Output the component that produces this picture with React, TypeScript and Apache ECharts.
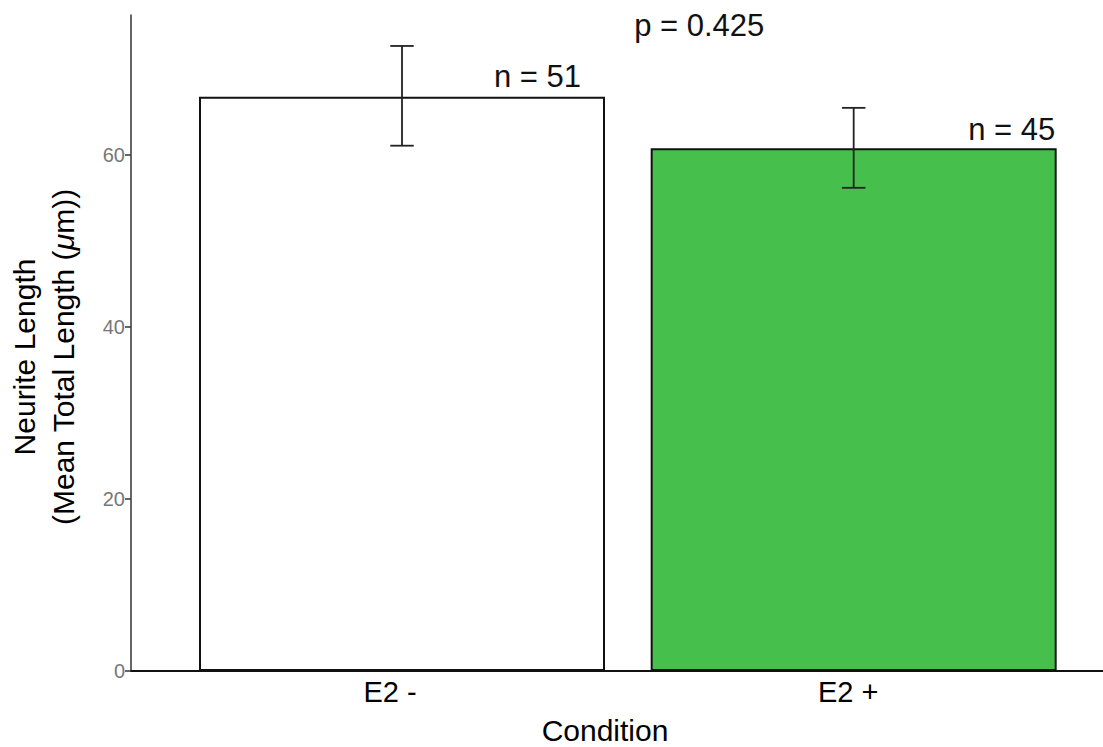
import React, { useEffect, useRef } from "react";
import * as echarts from "echarts";

const categories = ["E2 -", "E2 +"];
const catPositions = [1, 2];
const means = [66.8, 60.8];
const errLower = [61.1, 56.2];
const errUpper = [72.7, 65.5];
const barColors = ["#ffffff", "#46bf4d"];
const annX = [1.3, 2.35, 1.658];
const annY = [67.3, 61.2, 73.3];
const annText = ["n = 51", "n = 45", "p = 0.425"];
const yTicks = [0, 20, 40, 60];

const FONT = "'Liberation Sans', Arial, Helvetica, sans-serif";

export default function App() {
  const ref = useRef<HTMLDivElement>(null);
  useEffect(() => {
    if (!ref.current) return;
    const chart = echarts.init(ref.current, null, { renderer: "svg" });
    const option: any = {
      animation: false,
      backgroundColor: "#ffffff",
      grid: { left: 131, top: 15, right: 0, height: 656, containLabel: false },
      xAxis: {
        type: "value",
        min: 0.4,
        max: 2.552,
        splitLine: { show: false },
        axisTick: { show: false },
        axisLine: { show: true, onZero: false, lineStyle: { color: "#111", width: 2 } },
        axisLabel: {
          customValues: catPositions,
          margin: 6,
          formatter: (v: number) => {
            const i = catPositions.indexOf(v);
            if (i < 0) return "";
            return i === 0 ? `{a|${categories[i]}}` : `{b|${categories[i]}}`;
          },
          rich: {
            a: { fontSize: 29, fontFamily: FONT, color: "#000", padding: [0, 24, 0, 0] },
            b: { fontSize: 29, fontFamily: FONT, color: "#000", padding: [0, 11, 0, 0] },
          },
        },
      },
      yAxis: {
        type: "value",
        min: 0,
        max: 76.3,
        interval: 20,
        splitLine: { show: false },
        axisLine: { show: true, lineStyle: { color: "#333", width: 1.5 } },
        axisTick: { show: true, length: 6, customValues: yTicks, lineStyle: { color: "#333", width: 1.5 } },
        axisLabel: {
          customValues: yTicks,
          margin: 6,
          fontSize: 20,
          fontFamily: FONT,
          color: "#777",
        },
      },
      series: [
        {
          type: "bar",
          barWidth: 406,
          z: 2,
          data: catPositions.map((x, i) => ({
            value: [x, means[i]],
            itemStyle: { color: barColors[i], borderColor: "#111", borderWidth: 2 },
          })),
        },
        {
          type: "custom",
          z: 10,
          data: catPositions.map((x, i) => [x, errLower[i], errUpper[i]]),
          renderItem: (params: any, api: any) => {
            const x = api.value(0);
            const lo = api.value(1);
            const hi = api.value(2);
            const cap = 0.026;
            const top = api.coord([x, hi]);
            const bot = api.coord([x, lo]);
            const tl = api.coord([x - cap, hi]);
            const tr = api.coord([x + cap, hi]);
            const bl = api.coord([x - cap, lo]);
            const br = api.coord([x + cap, lo]);
            const style = { stroke: "#222", lineWidth: 1.8 };
            return {
              type: "group",
              children: [
                { type: "line", shape: { x1: top[0], y1: top[1], x2: bot[0], y2: bot[1] }, style },
                { type: "line", shape: { x1: tl[0], y1: tl[1], x2: tr[0], y2: tr[1] }, style },
                { type: "line", shape: { x1: bl[0], y1: bl[1], x2: br[0], y2: br[1] }, style },
              ],
            };
          },
        },
        {
          type: "scatter",
          symbolSize: 0,
          z: 11,
          itemStyle: { opacity: 1 },
          data: annX.map((x, i) => [x, annY[i], annText[i]]),
          label: {
            show: true,
            position: "top",
            distance: 0,
            formatter: (p: any) => p.value[2],
            fontSize: 31,
            fontFamily: FONT,
            color: "#111",
            opacity: 1,
          },
        },
      ],
      graphic: [
        {
          type: "text",
          x: 44,
          y: 357,
          rotation: Math.PI / 2,
          style: {
            text: "{a|Neurite Length}\n{a|(Mean Total Length (}{i|μ}{a|m))}",
            align: "center",
            verticalAlign: "middle",
            rich: {
              a: { fontSize: 30, fontFamily: FONT, fill: "#000", lineHeight: 39 },
              i: { fontSize: 30, fontFamily: FONT, fill: "#000", fontStyle: "italic", lineHeight: 39 },
            },
          },
        },
        {
          type: "text",
          x: 605,
          y: 730,
          style: {
            text: "Condition",
            align: "center",
            verticalAlign: "middle",
            fontSize: 30,
            fontFamily: FONT,
            fill: "#000",
          },
        },
      ],
    };
    chart.setOption(option);
    return () => chart.dispose();
  }, []);
  return (
    <div
      ref={ref}
      style={{ position: "absolute", left: 0, top: 0, width: 1103, height: 747 }}
    />
  );
}
